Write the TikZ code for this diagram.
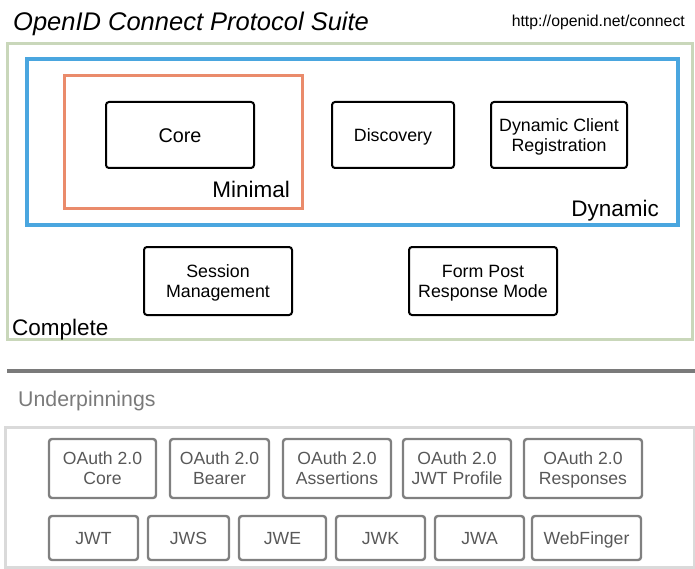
\documentclass[tikz,border=0pt]{standalone}
\usepackage{fontspec}
\setmainfont{Liberation Sans}
\definecolor{suitegreen}{HTML}{C9D7BA}
\definecolor{dynblue}{HTML}{4AA6DF}
\definecolor{minorange}{HTML}{EA8B6B}
\definecolor{basegray}{HTML}{DADADA}
\definecolor{rulegray}{HTML}{7A7A7A}
\definecolor{specgray}{HTML}{808080}
\definecolor{spectext}{HTML}{585858}
% set a line without its descenders, so every box centres on cap height
\newcommand\nodepth[1]{\raisebox{0pt}[\height][0pt]{#1}}
\begin{document}
\begin{tikzpicture}[x=1pt,y=-1pt,
  frame/.style={draw, line width=3pt, inner sep=0pt, minimum width=#1},
  spec/.style={draw=black, line width=2pt, rounded corners=3pt, align=center,
    inner sep=0pt, font=\fontsize{17.8}{20}\selectfont},
  basespec/.style={draw=specgray, line width=2.4pt, rounded corners=3pt, align=center,
    inner sep=0pt, text=spectext, font=\fontsize{17.6}{20}\selectfont},
  oneline/.style={text height=12.8pt, text depth=0pt},
  tag/.style={inner sep=0pt, font=\fontsize{22.5}{24}\selectfont}]
\useasboundingbox (0,0) rectangle (695,569);

% heading
\node[anchor=base west, inner sep=0pt, font=\fontsize{25.5}{28}\selectfont\itshape]
  (title) at (13,31) {OpenID Connect Protocol Suite};
\node[anchor=base east, inner sep=0pt, font=\fontsize{15.8}{18}\selectfont]
  (url) at (685,27) {http://openid.net/connect};

% nested profile frames
\node[frame=685pt, draw=suitegreen, minimum height=295pt] (complete) at (349.5,191.5) {};
\node[frame=651pt, draw=dynblue, line width=3.5pt, minimum height=166pt] (dynamic) at (352.5,142) {};
\node[frame=238pt, draw=minorange, minimum height=133pt] (minimal) at (183,142.5) {};

% specifications
\node[spec, oneline, text height=14.2pt, minimum width=148pt, minimum height=66pt, font=\fontsize{19.8}{22}\selectfont] (core) at (180,135) {Core};
\node[spec, oneline, minimum width=122pt, minimum height=66pt] (disc) at (393,135) {Discovery};
\node[spec, minimum width=136pt, minimum height=66pt] (reg) at (559,135) {Dynamic Client\\\nodepth{Registration}};
\node[spec, minimum width=148pt, minimum height=68pt] (sess) at (218,281) {Session\\\nodepth{Management}};
\node[spec, minimum width=148pt, minimum height=68pt] (form) at (483,281) {Form Post\\\nodepth{Response Mode}};

% frame labels
\node[tag, anchor=base east] (minlabel) at (290,198) {Minimal};
\node[tag, anchor=base east] (dynlabel) at (659,216) {Dynamic};
\node[tag, anchor=base west] (complabel) at (12,335) {Complete};

% separator
\coordinate (sepL) at (7,371);
\coordinate (sepR) at (695,371);
\draw[rulegray, line width=4pt] (sepL) -- (sepR);

% underpinnings
\node[anchor=base west, inner sep=0pt, text=rulegray, font=\fontsize{21.3}{24}\selectfont]
  (under) at (18,406) {Underpinnings};
\node[frame=689pt, draw=basegray, minimum height=140pt] (basebox) at (349.5,497) {};

\node[basespec, minimum width=107pt, minimum height=59pt] (oacore) at (102.5,468.5) {OAuth 2.0\\Core};
\node[basespec, minimum width=99pt, minimum height=59pt] (oabear) at (219.5,468.5) {OAuth 2.0\\Bearer};
\node[basespec, minimum width=108pt, minimum height=59pt] (oaass) at (337,468.5) {OAuth 2.0\\Assertions};
\node[basespec, minimum width=108pt, minimum height=59pt] (oajwt) at (457,468.5) {OAuth 2.0\\JWT Profile};
\node[basespec, minimum width=118pt, minimum height=59pt] (oaresp) at (583,468.5) {OAuth 2.0\\\nodepth{Responses}};

\node[basespec, oneline, minimum width=89pt, minimum height=44pt] (jwt) at (93.5,538) {JWT};
\node[basespec, oneline, minimum width=81pt, minimum height=44pt] (jws) at (188.5,538) {JWS};
\node[basespec, oneline, minimum width=87pt, minimum height=44pt] (jwe) at (282.5,538) {JWE};
\node[basespec, oneline, minimum width=89pt, minimum height=44pt] (jwk) at (380.5,538) {JWK};
\node[basespec, oneline, minimum width=89pt, minimum height=44pt] (jwa) at (479.5,538) {JWA};
\node[basespec, oneline, minimum width=109pt, minimum height=44pt] (wf) at (586.5,538) {WebFinger};
\end{tikzpicture}
\end{document}
